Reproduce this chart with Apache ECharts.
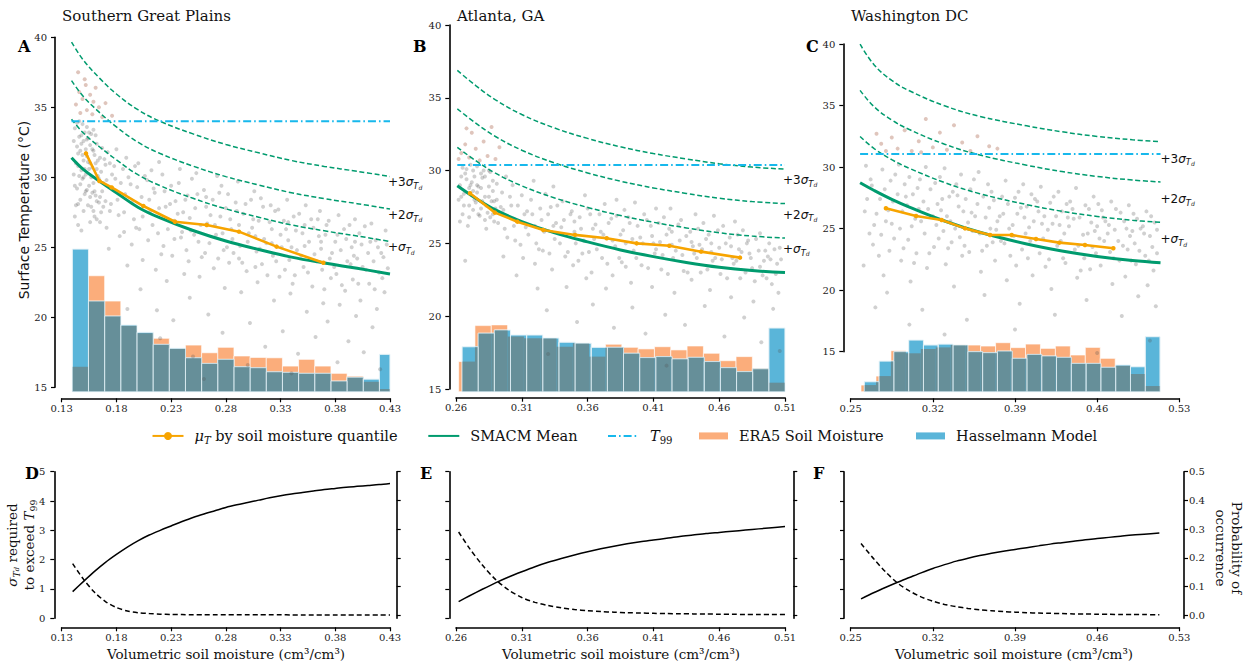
<!DOCTYPE html>
<html><head><meta charset="utf-8">
<script src="https://cdn.jsdelivr.net/npm/echarts@6/dist/echarts.min.js"></script>
<style>html,body{margin:0;padding:0;background:#fff}#chart{width:1252px;height:661px}</style>
</head><body><div id="chart"></div>
<script>
// ================= DATA =================
const panelTitles = ['Southern Great Plains', 'Atlanta, GA', 'Washington DC'];
const panelLetters = ['A', 'B', 'C', 'D', 'E', 'F'];
const xTicksA = [0.13, 0.18, 0.23, 0.28, 0.33, 0.38, 0.43];
const xTicksB = [0.26, 0.31, 0.36, 0.41, 0.46, 0.51];
const xTicksC = [0.25, 0.32, 0.39, 0.46, 0.53];
const yTicksTemp = [15, 20, 25, 30, 35, 40];
const yTicksProb = [0, 0.1, 0.2, 0.3, 0.4, 0.5];
const xRangeA = [0.13, 0.43], xRangeB = [0.26, 0.51], xRangeC = [0.25, 0.53];
const yRangeA = [14.69, 40], yRangeB = [14.81, 40], yRangeC = [11.75, 40];
const sigmaRange = [0, 5], probRange = [-0.0104, 0.5];

// --- Panel A (Southern Great Plains)
const smA = [0.139, 0.15, 0.165, 0.18, 0.2, 0.22, 0.25, 0.28, 0.31, 0.34, 0.37, 0.40, 0.43];
const meanA = [31.4, 30.55, 29.7, 28.9, 27.85, 27.1, 26.2, 25.45, 24.85, 24.3, 23.88, 23.5, 23.1];
const plus1A = [34.15, 33.15, 32.15, 31.25, 30.17, 29.4, 28.5, 27.75, 27.15, 26.6, 26.18, 25.81, 25.42];
const plus2A = [36.9, 35.75, 34.6, 33.6, 32.49, 31.7, 30.8, 30.05, 29.45, 28.9, 28.48, 28.12, 27.74];
const plus3A = [39.65, 38.35, 37.05, 35.95, 34.81, 34.0, 33.1, 32.35, 31.75, 31.2, 30.78, 30.43, 30.06];
const t99A = 34.0, t99xA = [0.139, 0.43];
const quantXA = [0.1522, 0.1644, 0.1757, 0.2046, 0.2335, 0.2625, 0.292, 0.3264, 0.3691];
const quantYA = [31.71, 29.74, 29.28, 27.95, 26.83, 26.59, 26.12, 25.05, 23.9];
const eraRangeA = [0.1397, 0.4351], hasRangeA = [0.1397, 0.4351];
const eraA = [16.47, 22.97, 21.16, 19.4, 18.86, 18.5, 17.75, 18.02, 17.47, 17.86, 17.24, 17.14, 17.11, 16.52, 17.0, 16.52, 16.0, 15.8, 15.4, 14.88];
const hasA = [24.88, 21.16, 20.09, 19.45, 18.93, 18.07, 17.79, 17.11, 16.71, 17.0, 16.47, 16.4, 16.11, 16.07, 16.0, 16.0, 15.45, 15.72, 15.59, 17.36];
const scatterA = [
[0.142,33.5],[0.144,32.2],[0.145,30.8],[0.146,34.0],[0.147,29.5],[0.148,33.0],[0.149,31.6],[0.150,32.6],[0.151,28.8],[0.152,30.2],
[0.153,33.6],[0.154,31.1],[0.155,29.4],[0.156,32.3],[0.157,27.9],[0.158,30.7],[0.159,31.9],[0.160,29.0],[0.161,33.0],[0.162,28.3],
[0.163,30.1],[0.165,31.4],[0.166,27.5],[0.168,29.6],[0.170,30.9],[0.143,31.0],[0.146,32.9],[0.149,33.8],[0.152,32.0],[0.155,33.2],
[0.158,28.9],[0.161,31.0],[0.164,29.9],[0.167,32.1],[0.144,29.2],[0.150,27.6],[0.156,26.8],[0.147,31.9],[0.151,30.6],[0.153,32.7],
[0.157,30.0],[0.159,33.4],[0.162,30.6],[0.145,28.1],[0.148,26.2],[0.141,30.2],[0.143,28.0],[0.154,28.0],[0.160,27.2],[0.165,28.6],
[0.141,32.6],[0.142,29.4],[0.144,33.9],[0.145,31.7],[0.146,30.1],[0.148,32.4],[0.149,29.9],[0.150,31.2],[0.151,33.2],[0.152,29.0],
[0.153,31.5],[0.154,32.8],[0.155,30.6],[0.156,31.0],[0.157,33.1],[0.158,32.0],[0.159,29.6],[0.160,31.6],[0.161,28.7],[0.162,32.4],
[0.163,31.2],[0.164,28.2],[0.166,30.4],[0.167,29.0],[0.169,31.3],[0.170,28.3],[0.147,28.4],[0.150,30.0],[0.153,29.1],[0.156,28.6],
[0.159,27.6],[0.162,27.0],[0.165,26.8],[0.168,27.9],[0.171,29.8],[0.174,31.0],[0.177,29.1],[0.142,27.2],[0.145,26.6],[0.148,30.5],
[0.172,31.8],[0.175,28.1],[0.171,26.4],[0.176,30.2],[0.173,24.9],[0.179,29.9],[0.182,27.3],[0.180,32.0],[0.183,25.8],
[0.186,30.6],[0.188,28.8],[0.187,26.1],[0.190,23.7],[0.189,31.4],[0.193,29.5],[0.196,27.0],[0.194,25.2],[0.197,30.8],
[0.200,31.0],[0.203,28.6],[0.201,26.3],[0.204,24.1],[0.202,22.0],[0.208,29.8],[0.211,27.6],[0.209,25.5],[0.212,30.5],
[0.215,28.9],[0.218,26.0],[0.216,23.4],[0.219,31.1],[0.217,20.5],[0.222,30.2],[0.225,27.9],[0.223,25.1],[0.226,22.6],
[0.230,29.4],[0.233,26.9],[0.231,24.4],[0.234,28.3],[0.232,19.8],[0.238,30.6],[0.241,27.5],[0.239,25.7],[0.242,23.1],
[0.245,28.7],[0.248,26.2],[0.246,24.0],[0.249,29.9],[0.247,21.4],[0.252,27.8],[0.255,25.4],[0.253,30.3],[0.256,22.9],
[0.260,29.1],[0.263,26.7],[0.261,24.6],[0.264,20.2],[0.262,27.9],[0.268,28.4],[0.271,25.9],[0.269,23.5],[0.272,30.1],
[0.275,27.2],[0.278,24.8],[0.276,29.4],[0.279,22.1],[0.277,18.9],[0.282,28.8],[0.285,26.3],[0.283,23.9],[0.286,25.6],
[0.290,27.6],[0.293,25.1],[0.291,29.7],[0.294,21.8],[0.292,24.2],[0.298,28.1],[0.301,26.0],[0.299,23.3],[0.302,19.6],
[0.305,27.0],[0.308,24.7],[0.306,29.0],[0.309,22.5],[0.307,25.8],[0.312,28.5],[0.315,25.6],[0.313,23.8],[0.316,17.9],
[0.320,26.8],[0.323,24.4],[0.321,28.0],[0.324,21.2],[0.322,25.3],[0.328,27.7],[0.331,25.0],[0.329,22.9],[0.332,19.0],
[0.335,26.3],[0.338,24.1],[0.336,28.4],[0.339,21.7],[0.337,25.5],[0.342,27.2],[0.345,24.8],[0.343,23.0],[0.346,17.4],
[0.350,26.0],[0.353,28.0],[0.351,23.6],[0.354,20.4],[0.352,25.1],[0.358,27.0],[0.361,24.5],[0.359,22.2],[0.362,18.6],
[0.365,25.8],[0.368,23.4],[0.366,27.6],[0.369,21.0],[0.367,24.9],[0.372,26.6],[0.375,24.2],[0.373,19.7],[0.376,22.8],
[0.380,25.4],[0.383,27.3],[0.381,23.1],[0.384,20.9],[0.382,16.8],[0.388,26.3],[0.391,24.0],[0.389,21.9],[0.392,18.3],
[0.395,25.0],[0.398,27.0],[0.396,22.7],[0.399,20.1],[0.397,24.4],[0.402,26.0],[0.405,23.6],[0.403,21.2],[0.406,17.5],
[0.410,24.6],[0.413,26.7],[0.411,22.4],[0.414,19.3],[0.417,25.5],[0.420,23.2],[0.418,20.6],[0.421,16.3],
[0.424,24.3],[0.426,26.2],[0.425,21.8],[0.220,18.5],[0.300,16.6],[0.260,15.6],[0.340,16.0],[0.190,20.6],[0.250,17.2],
[0.174,27.6],[0.178,30.8],[0.181,28.4],[0.184,29.6],[0.187,27.5],[0.191,30.0],[0.194,28.2],[0.198,26.4],[0.199,29.3],
[0.204,27.2],[0.206,30.1],[0.210,28.4],[0.213,26.6],[0.214,29.2],[0.219,27.8],[0.221,24.5],[0.224,29.0],[0.227,26.3],
[0.229,28.1],[0.233,25.6],[0.236,27.4],[0.237,29.6],[0.240,26.1],[0.243,28.4],[0.244,24.8],[0.247,27.1],[0.251,25.9],
[0.254,28.8],[0.257,26.6],[0.258,24.3],[0.262,28.6],[0.265,25.3],[0.266,27.3],[0.270,26.6],[0.273,24.2],[0.274,28.9],
[0.277,26.0],[0.280,27.8],[0.281,25.0],[0.284,27.0],[0.287,24.6],[0.289,28.2],[0.292,26.6],[0.295,23.9],[0.296,27.4],
[0.300,25.4],[0.303,28.4],[0.304,26.4],[0.307,23.6],[0.310,26.9],[0.311,24.9],[0.314,27.9],[0.317,25.3],[0.318,23.0],
[0.322,26.3],[0.325,27.6],[0.326,24.0],[0.330,25.9],[0.333,26.9],[0.334,23.4],[0.337,26.8],[0.340,25.0],[0.341,22.4],
[0.344,26.2],[0.347,27.4],[0.349,24.4],[0.352,26.6],[0.355,23.2],[0.356,25.4],[0.360,26.4],[0.363,24.0],[0.364,27.0],
[0.367,25.4],[0.370,22.0],[0.371,25.9],[0.374,26.9],[0.377,24.6],[0.379,23.6],[0.382,25.9],[0.385,24.8],[0.386,22.3],
[0.390,25.6],[0.393,26.6],[0.394,23.8],[0.398,25.4],[0.400,24.2],[0.401,22.4],[0.404,25.2],[0.407,26.5],[0.408,23.4],
[0.412,25.4],[0.415,24.0],[0.416,22.0],[0.419,25.0],[0.422,24.6],[0.423,22.8],[0.427,25.2],[0.428,23.5]
];
const hotA = [[0.143,35.2],[0.146,36.1],[0.149,35.6],[0.151,37.0],[0.153,34.8],[0.156,35.9],[0.158,34.5],[0.161,36.4],
[0.164,35.0],[0.147,34.6],[0.145,37.5],[0.167,34.3],[0.170,35.3],[0.176,34.4],[0.152,36.6],[0.159,35.4]];

// --- Panel B (Atlanta, GA)
const smB = [0.261, 0.275, 0.29, 0.31, 0.335, 0.36, 0.385, 0.41, 0.435, 0.46, 0.485, 0.51];
const meanB = [28.96, 28.1, 27.3, 26.5, 25.72, 25.1, 24.55, 24.09, 23.69, 23.36, 23.13, 22.99];
const plus1B = [31.6, 30.68, 29.82, 28.95, 28.12, 27.47, 26.91, 26.45, 26.06, 25.73, 25.5, 25.36];
const plus2B = [34.24, 33.26, 32.34, 31.4, 30.52, 29.84, 29.27, 28.81, 28.43, 28.1, 27.87, 27.73];
const plus3B = [36.88, 35.84, 34.86, 33.85, 32.92, 32.21, 31.63, 31.17, 30.8, 30.47, 30.24, 30.1];
const t99B = 30.38, t99xB = [0.261, 0.51];
const quantXB = [0.2706, 0.2896, 0.3066, 0.3263, 0.3504, 0.3745, 0.3973, 0.4221, 0.4462, 0.4758];
const quantYB = [28.44, 27.11, 26.49, 25.92, 25.58, 25.35, 25.0, 24.84, 24.43, 24.02];
const eraRangeB = [0.262, 0.510], hasRangeB = [0.2646, 0.510];
const eraB = [16.88, 19.35, 19.4, 18.6, 18.48, 18.48, 17.9, 18.14, 17.22, 18.07, 17.86, 17.75, 17.9, 17.68, 17.95, 17.45, 16.94, 17.22, 16.42, 15.43];
const hasB = [17.9, 18.83, 19.05, 18.71, 18.71, 18.5, 18.21, 18.14, 17.86, 17.86, 17.45, 17.15, 17.22, 17.06, 17.17, 16.88, 16.46, 16.19, 16.38, 19.19];
const scatterB = [
[0.264,29.6],[0.266,28.4],[0.268,30.1],[0.270,27.6],[0.272,29.2],[0.274,28.0],[0.276,30.3],[0.278,26.9],[0.280,29.5],[0.282,28.2],
[0.284,27.1],[0.286,29.9],[0.288,28.6],[0.290,27.4],[0.265,27.0],[0.269,26.2],[0.273,30.0],[0.277,28.9],[0.281,30.0],[0.285,28.9],
[0.289,26.5],[0.263,26.5],[0.267,23.8],[0.271,29.0],[0.275,27.8],[0.279,29.8],[0.283,26.0],[0.287,27.9],[0.291,29.1],[0.262,28.0],
[0.263,29.0],[0.265,30.2],[0.266,27.6],[0.268,29.4],[0.270,28.8],[0.271,30.4],[0.273,27.3],[0.274,29.6],[0.276,28.5],[0.277,27.0],
[0.279,28.8],[0.280,27.9],[0.282,29.6],[0.283,27.6],[0.285,28.2],[0.286,26.8],[0.288,29.3],[0.289,27.9],[0.291,28.0],[0.292,26.4],
[0.294,27.5],[0.264,28.2],[0.267,29.8],[0.270,26.8],[0.273,28.6],[0.276,29.0],[0.279,27.4],[0.282,26.6],[0.285,30.0],[0.288,27.0],
[0.295,28.5],[0.297,26.0],[0.296,24.1],[0.298,29.6],[0.302,27.6],[0.305,25.2],[0.303,29.0],[0.306,22.8],[0.304,26.7],
[0.310,28.3],[0.313,26.1],[0.311,24.0],[0.314,27.2],[0.318,27.0],[0.321,25.0],[0.319,29.3],[0.322,21.9],[0.320,23.6],
[0.325,26.6],[0.328,28.4],[0.326,24.5],[0.329,20.4],[0.332,27.5],[0.335,25.3],[0.333,23.2],[0.336,26.4],[0.334,28.9],
[0.340,26.1],[0.343,24.1],[0.341,27.9],[0.344,22.0],[0.348,27.2],[0.351,25.0],[0.349,23.5],[0.352,19.6],[0.350,26.5],
[0.355,26.0],[0.358,28.3],[0.356,24.3],[0.359,22.6],[0.362,27.0],[0.365,25.3],[0.363,23.0],[0.366,26.3],[0.364,20.8],
[0.370,25.8],[0.373,27.7],[0.371,24.0],[0.374,21.9],[0.378,26.7],[0.381,24.8],[0.379,22.8],[0.382,28.0],[0.380,19.2],
[0.385,25.6],[0.388,27.3],[0.386,23.7],[0.389,25.0],[0.392,26.4],[0.395,24.5],[0.393,22.3],[0.396,27.8],[0.394,20.6],
[0.400,25.4],[0.403,27.0],[0.401,23.5],[0.404,18.8],[0.408,26.2],[0.411,24.3],[0.409,22.0],[0.412,27.4],[0.410,25.0],
[0.415,25.1],[0.418,26.8],[0.416,23.2],[0.419,20.1],[0.422,26.0],[0.425,24.0],[0.423,27.4],[0.426,21.6],[0.424,24.9],
[0.430,25.2],[0.433,23.1],[0.431,26.6],[0.434,19.4],[0.438,25.8],[0.441,24.3],[0.439,22.5],[0.442,27.0],[0.440,24.8],
[0.445,24.9],[0.448,26.4],[0.446,23.0],[0.449,20.7],[0.452,25.6],[0.455,23.8],[0.453,21.8],[0.456,26.9],[0.454,24.4],
[0.460,24.7],[0.463,26.2],[0.461,22.9],[0.464,18.6],[0.468,25.4],[0.471,23.6],[0.469,21.3],[0.472,26.5],[0.470,24.0],
[0.475,24.6],[0.478,25.9],[0.476,22.6],[0.479,19.9],[0.482,25.2],[0.485,23.3],[0.483,24.3],[0.486,21.0],
[0.490,24.5],[0.493,22.8],[0.491,25.7],[0.494,23.8],[0.492,18.2],[0.497,24.1],[0.500,22.2],[0.498,25.0],[0.501,20.5],
[0.504,23.6],[0.506,24.7],[0.505,21.6],[0.506,17.6],[0.330,17.4],[0.420,16.6],
[0.296,27.3],[0.299,25.4],[0.301,28.2],[0.304,26.2],[0.307,27.6],[0.309,24.9],[0.312,27.0],[0.315,25.6],[0.317,28.0],
[0.320,26.2],[0.323,24.6],[0.324,27.4],[0.327,25.8],[0.330,27.0],[0.331,24.3],[0.334,26.2],[0.337,27.6],[0.339,25.0],
[0.342,26.6],[0.345,24.4],[0.347,27.0],[0.350,25.8],[0.353,23.8],[0.354,26.8],[0.357,25.2],[0.360,27.4],[0.361,24.4],
[0.364,26.0],[0.367,24.6],[0.369,27.0],[0.372,25.6],[0.375,23.6],[0.376,26.4],[0.379,25.2],[0.382,26.9],[0.384,24.0],
[0.387,25.9],[0.389,23.4],[0.391,26.8],[0.394,25.3],[0.397,24.0],[0.398,26.2],[0.402,25.0],[0.405,26.6],[0.406,23.3],
[0.409,25.5],[0.412,24.6],[0.414,26.4],[0.417,24.2],[0.420,25.6],[0.421,22.9],[0.424,25.8],[0.427,24.5],[0.429,26.3],
[0.432,24.2],[0.435,25.5],[0.436,23.0],[0.439,25.1],[0.443,24.0],[0.444,26.0],[0.447,24.6],[0.450,25.3],[0.451,23.2],
[0.454,25.0],[0.457,24.0],[0.459,25.9],[0.462,23.9],[0.465,25.0],[0.466,22.6],[0.469,24.8],[0.473,23.8],[0.474,25.6],
[0.477,24.4],[0.480,23.0],[0.481,25.0],[0.484,24.0],[0.487,22.4],[0.488,25.3],[0.491,23.4],[0.495,24.5],[0.496,22.6],
[0.499,23.9],[0.502,24.6],[0.503,22.9],[0.507,23.9]
];
const hotB = [[0.264,31.2],[0.267,31.8],[0.270,30.9],[0.272,32.6],[0.275,31.5],[0.278,30.7],[0.281,32.0],[0.284,31.0],
[0.287,33.0],[0.290,30.8],[0.293,31.6],[0.268,32.9],[0.262,30.8]];

// --- Panel C (Washington DC)
const smC = [0.258, 0.27, 0.285, 0.30, 0.33, 0.36, 0.40, 0.43, 0.46, 0.49, 0.514];
const meanC = [28.73, 28.1, 27.38, 26.75, 25.62, 24.7, 23.75, 23.18, 22.74, 22.41, 22.23];
const plus1C = [32.48, 31.5, 30.6, 29.9, 28.74, 27.84, 26.95, 26.41, 25.99, 25.68, 25.51];
const plus2C = [36.23, 34.9, 33.82, 33.05, 31.86, 30.98, 30.15, 29.64, 29.24, 28.95, 28.79];
const plus3C = [39.98, 38.3, 37.04, 36.2, 34.98, 34.12, 33.35, 32.87, 32.49, 32.22, 32.07];
const t99C = 31.06, t99xC = [0.258, 0.514];
const quantXC = [0.28, 0.3057, 0.3275, 0.3474, 0.3687, 0.3872, 0.4079, 0.4278, 0.4496, 0.4738];
const quantYC = [26.65, 26.03, 25.7, 25.02, 24.48, 24.48, 24.16, 23.86, 23.67, 23.4];
const eraRangeC = [0.2588, 0.5136], hasRangeC = [0.2616, 0.5136];
const eraC = [12.29, 13.02, 15.08, 14.87, 15.22, 15.35, 15.55, 15.54, 15.46, 15.73, 15.33, 15.62, 15.27, 15.46, 14.73, 15.35, 14.46, 13.86, 13.19, 12.21];
const hasC = [12.56, 14.24, 15.0, 15.95, 15.55, 15.62, 15.54, 15.0, 14.92, 15.05, 14.46, 14.78, 14.65, 14.54, 14.05, 14.05, 13.73, 13.92, 13.78, 16.22];
const scatterC = [
[0.262,26.4],[0.263,30.1],[0.261,22.0],[0.268,28.5],[0.270,25.3],[0.269,23.7],[0.271,18.6],
[0.275,27.4],[0.277,29.8],[0.276,24.5],[0.278,21.2],[0.282,26.5],[0.284,28.9],[0.283,23.2],[0.285,25.4],[0.281,19.8],
[0.290,27.8],[0.292,25.0],[0.291,30.2],[0.293,22.4],[0.298,26.9],[0.300,29.2],[0.299,24.1],[0.301,20.7],[0.297,27.6],
[0.305,25.8],[0.307,28.3],[0.306,23.0],[0.308,26.6],[0.312,27.2],[0.314,30.0],[0.313,24.6],[0.315,21.8],[0.311,18.4],
[0.320,26.0],[0.322,28.7],[0.321,23.5],[0.323,25.3],[0.328,27.4],[0.330,29.9],[0.329,24.8],[0.331,22.1],[0.327,26.5],
[0.335,25.6],[0.337,28.0],[0.336,23.9],[0.338,20.3],[0.342,26.8],[0.344,29.4],[0.343,24.3],[0.345,22.8],[0.341,27.7],
[0.350,25.5],[0.352,28.2],[0.351,23.1],[0.353,26.3],[0.349,17.6],[0.358,27.0],[0.360,24.6],[0.359,29.6],[0.361,21.5],
[0.365,25.9],[0.367,28.6],[0.366,23.6],[0.368,26.7],[0.364,19.6],[0.372,27.3],[0.374,24.9],[0.373,22.4],[0.375,25.6],
[0.380,26.2],[0.382,28.9],[0.381,23.8],[0.383,20.8],[0.379,27.6],[0.388,25.3],[0.390,27.5],[0.389,24.4],[0.391,22.0],
[0.395,26.7],[0.397,28.6],[0.396,23.3],[0.398,25.9],[0.394,18.9],[0.402,25.1],[0.404,27.8],[0.403,24.0],[0.405,21.2],
[0.410,26.4],[0.412,28.4],[0.411,23.0],[0.413,25.4],[0.409,27.2],[0.418,24.9],[0.420,27.1],[0.419,22.5],[0.421,20.1],
[0.425,26.0],[0.427,28.0],[0.426,23.6],[0.428,25.3],[0.424,18.0],[0.432,24.6],[0.434,27.0],[0.433,22.2],[0.435,25.9],
[0.440,25.8],[0.442,28.3],[0.441,23.3],[0.443,21.0],[0.439,26.6],[0.448,24.5],[0.450,26.9],[0.449,22.6],[0.451,19.2],
[0.455,25.5],[0.457,27.6],[0.456,23.5],[0.458,24.8],[0.454,21.7],[0.462,24.2],[0.464,26.5],[0.463,22.0],[0.465,25.9],
[0.470,25.3],[0.472,27.2],[0.471,23.1],[0.473,20.5],[0.469,24.6],[0.478,24.0],[0.480,26.3],[0.479,22.4],[0.481,17.9],
[0.485,25.0],[0.487,26.9],[0.486,23.3],[0.488,24.4],[0.484,21.1],[0.492,23.8],[0.494,25.8],[0.493,22.1],[0.495,19.5],
[0.500,24.6],[0.502,26.4],[0.501,22.8],[0.503,20.4],[0.499,25.2],[0.507,23.5],[0.509,25.5],[0.508,21.6],[0.510,18.7],
[0.330,16.4],[0.460,14.9],[0.505,15.9],[0.390,16.8],[0.300,17.2],
[0.264,27.4],[0.266,24.6],[0.267,29.0],[0.272,26.2],[0.274,22.8],[0.279,28.2],[0.280,25.6],[0.286,27.2],[0.287,24.2],[0.288,29.4],
[0.294,26.4],[0.295,23.4],[0.296,28.6],[0.302,25.2],[0.303,27.8],[0.304,22.2],[0.309,29.0],[0.310,25.6],[0.316,26.6],[0.317,23.0],
[0.318,28.2],[0.324,27.0],[0.325,24.2],[0.326,29.2],[0.332,26.0],[0.333,23.4],[0.334,27.6],[0.339,25.0],[0.340,28.6],[0.346,26.4],
[0.347,23.6],[0.348,27.4],[0.354,24.8],[0.355,29.0],[0.356,26.0],[0.362,23.2],[0.363,27.6],[0.369,25.0],[0.370,28.0],[0.371,23.9],
[0.377,26.0],[0.378,24.0],[0.384,27.0],[0.385,25.0],[0.386,22.8],[0.392,26.2],[0.393,28.0],[0.399,24.6],[0.400,26.8],[0.401,22.6],
[0.406,25.6],[0.407,27.4],[0.414,24.2],[0.415,26.0],[0.416,21.9],[0.422,25.4],[0.423,27.6],[0.429,24.0],[0.430,26.4],[0.431,22.6],
[0.436,25.2],[0.437,27.2],[0.444,23.6],[0.445,25.9],[0.446,21.6],[0.452,24.6],[0.453,26.6],[0.459,23.0],[0.460,25.2],[0.461,27.0],
[0.466,24.0],[0.467,25.6],[0.474,22.6],[0.475,24.9],[0.476,26.6],[0.482,23.6],[0.483,25.6],[0.489,22.4],[0.490,24.8],[0.491,26.2],
[0.496,23.2],[0.497,25.0],[0.504,22.4],[0.505,24.4],[0.506,26.0],[0.511,23.0],[0.511,24.9]
];
const hotC = [[0.272,32.7],[0.276,31.9],[0.285,32.4],[0.290,31.5],[0.296,33.0],[0.302,31.3],[0.308,32.1],[0.314,33.9],[0.320,31.6],
[0.326,32.8],[0.332,31.4],[0.338,33.4],[0.345,32.0],[0.352,31.3],[0.358,32.5],[0.368,31.7],[0.375,31.5],[0.280,31.3],[0.310,31.2]];

// --- Bottom panels: sigma required to exceed T99 (left axis) and probability of occurrence (right axis)
const sigXD = [0.14,0.15,0.16,0.17,0.18,0.19,0.20,0.21,0.22,0.23,0.24,0.25,0.26,0.27,0.28,0.29,0.30,0.31,0.32,0.33,0.34,0.35,0.36,0.37,0.38,0.39,0.40,0.41,0.42,0.43];
const sigD  = [0.91,1.26,1.6,1.91,2.18,2.43,2.65,2.84,3.0,3.15,3.3,3.44,3.56,3.67,3.78,3.87,3.95,4.03,4.11,4.18,4.24,4.29,4.34,4.39,4.43,4.47,4.5,4.53,4.56,4.6];
const probXD = sigXD;
const probD  = [0.18,0.125,0.08,0.048,0.027,0.015,0.009,0.006,0.004,0.003,0.0025,0.002,0.002,0.002,0.002,0.002,0.002,0.002,0.0018,0.0016,0.0015,0.0015,0.0015,0.0014,0.0014,0.0013,0.0013,0.0012,0.0012,0.0012];
const sigXE = [0.262,0.27,0.28,0.29,0.30,0.31,0.32,0.33,0.34,0.35,0.36,0.37,0.38,0.39,0.40,0.41,0.42,0.43,0.44,0.45,0.46,0.47,0.48,0.49,0.50,0.51];
const sigE  = [0.57,0.76,0.99,1.21,1.41,1.59,1.76,1.91,2.04,2.16,2.27,2.37,2.46,2.54,2.61,2.67,2.73,2.79,2.84,2.89,2.93,2.97,3.01,3.05,3.09,3.13];
const probXE = sigXE;
const probE  = [0.29,0.235,0.175,0.125,0.088,0.062,0.045,0.034,0.026,0.02,0.016,0.013,0.011,0.009,0.008,0.007,0.006,0.0055,0.005,0.0045,0.004,0.0035,0.003,0.003,0.003,0.003];
const sigXF = [0.2588,0.27,0.28,0.29,0.30,0.31,0.32,0.33,0.34,0.35,0.36,0.37,0.38,0.39,0.40,0.41,0.42,0.43,0.44,0.45,0.46,0.47,0.48,0.49,0.50,0.513];
const sigF  = [0.66,0.88,1.06,1.23,1.39,1.55,1.7,1.83,1.95,2.05,2.14,2.22,2.29,2.35,2.41,2.47,2.53,2.58,2.63,2.68,2.72,2.76,2.8,2.84,2.87,2.91];
const probXF = sigXF;
const probF  = [0.25,0.195,0.15,0.112,0.085,0.064,0.049,0.038,0.03,0.024,0.019,0.016,0.013,0.011,0.009,0.008,0.007,0.006,0.005,0.0045,0.004,0.0035,0.003,0.003,0.0025,0.002];

// ================= STYLE / LAYOUT =================
const SERIF = 'DejaVu Serif', SANS = 'DejaVu Sans';
const GREEN = '#009b6e', ORANGE = '#f7a400', SKY = '#17b8ec', ERA = '#fbad7b', HAS = '#5ab5d9', MIX = '#668f99';

function richSet(family, size) {
  return {
    n: {fontFamily: family, fontSize: size, lineHeight: size * 1.3},
    i: {fontFamily: family, fontStyle: 'italic', fontSize: size, lineHeight: size * 1.3},
    s: {fontFamily: family, fontStyle: 'italic', fontSize: size * 0.7, lineHeight: size * 0.8, verticalAlign: 'bottom'},
    s0: {fontFamily: family, fontSize: size * 0.7, lineHeight: size * 0.8, verticalAlign: 'bottom'},
    d: {fontFamily: family, fontStyle: 'italic', fontSize: size * 0.5, lineHeight: size * 0.5, verticalAlign: 'bottom'}
  };
}

const topPanels = [
  {data: {left: 61.7, top: 37.3, width: 328.3, height: 354.4}, spine: {left: 61.7, top: 37.3, width: 328.3, height: 350}, yOff: 6.7, xOff: 11, lab: [-2, 6],
   xr: xRangeA, yr: yRangeA, xt: xTicksA, sm: smA, mean: meanA, p: [plus1A, plus2A, plus3A], t99: t99A, t99x: t99xA, qx: quantXA, qy: quantYA,
   era: eraA, eraR: eraRangeA, has: hasA, hasR: hasRangeA, sc: scatterA, hot: hotA},
  {data: {left: 456, top: 25, width: 329, height: 366.7}, spine: {left: 456, top: 25, width: 329, height: 364}, yOff: 6.7, xOff: 8.7, lab: [-2, 11],
   xr: xRangeB, yr: yRangeB, xt: xTicksB, sm: smB, mean: meanB, p: [plus1B, plus2B, plus3B], t99: t99B, t99x: t99xB, qx: quantXB, qy: quantYB,
   era: eraB, eraR: eraRangeB, has: hasB, hasR: hasRangeB, sc: scatterB, hot: hotB},
  {data: {left: 850.7, top: 44, width: 328.6, height: 347.7}, spine: {left: 850.7, top: 44, width: 328.6, height: 307.7}, yOff: 7.4, xOff: 46.6, lab: [0, 17],
   xr: xRangeC, yr: yRangeC, xt: xTicksC, sm: smC, mean: meanC, p: [plus1C, plus2C, plus3C], t99: t99C, t99x: t99xC, qx: quantXC, qy: quantYC,
   era: eraC, eraR: eraRangeC, has: hasC, hasR: hasRangeC, sc: scatterC, hot: hotC}
];
const bottomPanels = [
  {grid: {left: 61.7, top: 471.7, width: 328.3, height: 146.6}, lOff: 7.4, rOff: 6.7, showL: true, showR: false, xr: xRangeA, xt: xTicksA, sx: sigXD, sy: sigD, px: probXD, py: probD},
  {grid: {left: 456, top: 471.7, width: 329, height: 146.6}, lOff: 6.7, rOff: 8.3, showL: false, showR: false, xr: xRangeB, xt: xTicksB, sx: sigXE, sy: sigE, px: probXE, py: probE},
  {grid: {left: 850.7, top: 471.7, width: 328.6, height: 146.6}, lOff: 6.7, rOff: 4.7, showL: false, showR: true, xr: xRangeC, xt: xTicksC, sx: sigXF, sy: sigF, px: probXF, py: probF}
];

// ================= HELPERS =================
const pairs = (xs, ys) => xs.map((x, i) => [x, ys[i]]);
function binData(range, heights, base) {
  const n = heights.length, w = (range[1] - range[0]) / n;
  return heights.map((h, i) => [range[0] + i * w, range[0] + (i + 1) * w, h, base]);
}
function overlapData(a, b, base) {
  const out = [];
  a.forEach(p => b.forEach(q => {
    const lo = Math.max(p[0], q[0]), hi = Math.min(p[1], q[1]);
    if (hi > lo) out.push([lo, hi, Math.min(p[2], q[2]), base]);
  }));
  return out;
}
function rectRenderer(fill, stroke, lw) {
  return function (params, api) {
    const p0 = api.coord([api.value(0), api.value(2)]);
    const p1 = api.coord([api.value(1), api.value(3)]);
    const cs = params.coordSys;
    const shape = echarts.graphic.clipRectByRect(
      {x: p0[0], y: p0[1], width: p1[0] - p0[0], height: p1[1] - p0[1]},
      {x: cs.x, y: cs.y, width: cs.width, height: cs.height});
    if (!shape) return null;
    return {type: 'rect', shape: shape, style: {fill: fill, stroke: stroke || null, lineWidth: lw || 0}};
  };
}
const axisLineStyle = {show: true, onZero: false, lineStyle: {color: '#000', width: 1.6}};
const tickStyle = {lineStyle: {color: '#000', width: 1.2}, length: 4};
const labelStyle = {fontFamily: SERIF, fontSize: 10, color: '#222'};

// ================= BUILD OPTION =================
const grids = [], xAxes = [], yAxes = [], series = [];

topPanels.forEach((P, k) => {
  const gd = grids.length;
  grids.push(Object.assign({outerBoundsMode: 'none', containLabel: false}, P.data));
  xAxes.push({type: 'value', gridIndex: gd, min: P.xr[0], max: P.xr[1], show: false});
  yAxes.push({type: 'value', gridIndex: gd, min: P.yr[0], max: P.yr[1], show: false});
  const gs = grids.length;
  grids.push(Object.assign({outerBoundsMode: 'none', containLabel: false}, P.spine));
  xAxes.push({type: 'value', gridIndex: gs, min: P.xr[0], max: P.xr[1], position: 'bottom', offset: P.xOff,
    axisLine: axisLineStyle, axisTick: Object.assign({show: true, customValues: P.xt}, tickStyle),
    axisLabel: Object.assign({show: true, margin: 5, customValues: P.xt, formatter: v => v.toFixed(2)}, labelStyle),
    splitLine: {show: false}});
  yAxes.push({type: 'value', gridIndex: gs, min: 15, max: 40, interval: 5, position: 'left', offset: P.yOff,
    axisLine: axisLineStyle, axisTick: Object.assign({show: true}, tickStyle),
    axisLabel: Object.assign({show: true, margin: 8}, labelStyle), splitLine: {show: false}});

  const base = P.yr[0];
  const eraBins = binData(P.eraR, P.era, base), hasBins = binData(P.hasR, P.has, base);
  const common = {type: 'custom', xAxisIndex: gd, yAxisIndex: gd, silent: true, z: 1, encode: {x: [0, 1], y: [2, 3]}};
  series.push(Object.assign({name: 'ERA5 Soil Moisture', data: eraBins, renderItem: rectRenderer(ERA, 'rgba(255,255,255,0.8)', 0.8), itemStyle: {color: ERA}}, common));
  series.push(Object.assign({name: 'Hasselmann Model', data: hasBins, renderItem: rectRenderer(HAS, 'rgba(255,255,255,0.8)', 0.8), itemStyle: {color: HAS}}, common));
  series.push(Object.assign({name: 'overlap' + k, data: overlapData(eraBins, hasBins, base), renderItem: rectRenderer(MIX, null, 0), itemStyle: {color: MIX}}, common));
  series.push(Object.assign({name: 'outline' + k, data: hasBins, renderItem: rectRenderer('none', 'rgba(225,240,246,0.75)', 0.9), itemStyle: {color: HAS}}, common));

  series.push({type: 'scatter', name: 'pts' + k, xAxisIndex: gd, yAxisIndex: gd, data: P.sc, symbolSize: 4, silent: true, z: 2,
    itemStyle: {color: 'rgba(80,80,80,0.34)'}});
  series.push({type: 'scatter', name: 'hot' + k, xAxisIndex: gd, yAxisIndex: gd, data: P.hot, symbolSize: 4, silent: true, z: 2,
    itemStyle: {color: 'rgba(165,95,70,0.45)'}});

  ['+{i|σ}{s|T}{d|d}', '+2{i|σ}{s|T}{d|d}', '+3{i|σ}{s|T}{d|d}'].forEach((lab, j) => {
    series.push({type: 'line', name: 'sig' + (j + 1) + '_' + k, xAxisIndex: gd, yAxisIndex: gd, data: pairs(P.sm, P.p[j]),
      smooth: 0.4, symbol: 'none', silent: true, z: 3,
      lineStyle: {color: GREEN, width: 1.5, type: [5, 2.6]},
      endLabel: {show: true, formatter: () => lab, distance: 0, offset: P.lab, color: '#111',
        fontFamily: SANS, fontSize: 12, lineHeight: 15.6, rich: richSet(SANS, 12)}});
  });
  series.push({type: 'line', name: 'T99', xAxisIndex: gd, yAxisIndex: gd, data: [[P.t99x[0], P.t99], [P.t99x[1], P.t99]],
    symbol: 'none', silent: true, z: 3, itemStyle: {color: SKY}, lineStyle: {color: SKY, width: 1.9, type: [8, 3, 1.6, 3]}});
  series.push({type: 'line', name: 'SMACM Mean', xAxisIndex: gd, yAxisIndex: gd, data: pairs(P.sm, P.mean),
    smooth: 0.4, symbol: 'none', silent: true, z: 4, itemStyle: {color: GREEN}, lineStyle: {color: GREEN, width: 3}});
  series.push({type: 'line', name: 'muT', xAxisIndex: gd, yAxisIndex: gd, data: pairs(P.qx, P.qy),
    symbol: 'circle', symbolSize: 4.5, silent: true, z: 5, itemStyle: {color: ORANGE}, lineStyle: {color: ORANGE, width: 2.6}});
});

const rightAxes = [];
bottomPanels.forEach((P, k) => {
  const g = grids.length;
  grids.push(Object.assign({outerBoundsMode: 'none', containLabel: false}, P.grid));
  xAxes.push({type: 'value', gridIndex: g, min: P.xr[0], max: P.xr[1], position: 'bottom', offset: 9,
    axisLine: axisLineStyle, axisTick: Object.assign({show: true, customValues: P.xt}, tickStyle),
    axisLabel: Object.assign({show: true, margin: 5, customValues: P.xt, formatter: v => v.toFixed(2)}, labelStyle),
    splitLine: {show: false}});
  yAxes.push({type: 'value', gridIndex: g, min: sigmaRange[0], max: sigmaRange[1], interval: 1, position: 'left', offset: P.lOff,
    axisLine: axisLineStyle, axisTick: Object.assign({show: true}, tickStyle),
    axisLabel: Object.assign({show: P.showL, margin: 9}, labelStyle), splitLine: {show: false}});
  rightAxes.push({type: 'value', gridIndex: g, min: probRange[0], max: probRange[1], position: 'right', offset: P.rOff,
    axisLine: axisLineStyle, axisTick: Object.assign({show: true, customValues: yTicksProb}, tickStyle),
    axisLabel: Object.assign({show: P.showR, margin: 5, customValues: yTicksProb, formatter: v => v.toFixed(1)}, labelStyle),
    splitLine: {show: false}});
});
rightAxes.forEach(a => yAxes.push(a));
bottomPanels.forEach((P, k) => {
  const g = 6 + k;
  series.push({type: 'line', name: 'req' + k, xAxisIndex: g, yAxisIndex: g, data: pairs(P.sx, P.sy), smooth: 0.3,
    symbol: 'none', silent: true, lineStyle: {color: '#000', width: 1.5}});
  series.push({type: 'line', name: 'prob' + k, xAxisIndex: g, yAxisIndex: 9 + k, data: pairs(P.px, P.py), smooth: 0.3,
    symbol: 'none', silent: true, lineStyle: {color: '#000', width: 1.5, type: [5, 3]}});
});

// legends
const legRich = richSet(SERIF, 14.5);
const legText = {fontFamily: SERIF, fontSize: 14.5, color: '#111', lineHeight: 18.85, padding: [0, 0, 0, 6], rich: legRich};
const legBase = {top: 426.5, itemWidth: 31, itemHeight: 10, padding: 0, selectedMode: false, orient: 'horizontal', textStyle: legText};
const legends = [
  Object.assign({}, legBase, {left: 151.5, data: ['muT'], formatter: () => '{i|μ}{s|T} by soil moisture quantile'}),
  Object.assign({}, legBase, {left: 427.3, data: [{name: 'SMACM Mean', itemStyle: {opacity: 0}}]}),
  Object.assign({}, legBase, {left: 607, data: [{name: 'T99', itemStyle: {opacity: 0}}], formatter: () => '{i|T}{s0|99}'}),
  Object.assign({}, legBase, {left: 699, itemWidth: 29, itemHeight: 7, data: [{name: 'ERA5 Soil Moisture', icon: 'rect'}]}),
  Object.assign({}, legBase, {left: 916, itemWidth: 29, itemHeight: 7, data: [{name: 'Hasselmann Model', icon: 'rect'}]})
];

// free text
const graphics = [];
const titleX = [62, 457, 851];
panelTitles.forEach((t, i) => graphics.push({type: 'text', x: titleX[i], y: 16,
  style: {text: t, fontFamily: SERIF, fontSize: 15, fill: '#111', align: 'left', verticalAlign: 'middle'}}));
const letterPos = [[18, 46.5], [413, 46.5], [806, 46.5], [25, 473.5], [420, 473.5], [813, 473.5]];
panelLetters.forEach((t, i) => graphics.push({type: 'text', x: letterPos[i][0], y: letterPos[i][1],
  style: {text: t, fontFamily: SERIF, fontSize: 16, fontWeight: 'bold', fill: '#000', align: 'left', verticalAlign: 'middle'}}));
graphics.push({type: 'text', x: 24, y: 210, rotation: Math.PI / 2,
  style: {text: 'Surface Temperature (°C)', fontFamily: SANS, fontSize: 14, fill: '#111', align: 'center', verticalAlign: 'middle'}});
const xLabCenters = [226, 621, 1014];
xLabCenters.forEach(cx => graphics.push({type: 'text', x: cx, y: 654,
  style: {text: 'Volumetric soil moisture (cm³/cm³)', fontFamily: SERIF, fontSize: 13.5, fill: '#111', align: 'center', verticalAlign: 'middle'}}));
graphics.push({type: 'text', x: 20.5, y: 545, rotation: Math.PI / 2,
  style: {text: '{i|σ}{s|T}{d|d} required\nto exceed {i|T}{s0|99}', fontFamily: SERIF, fontSize: 13.5, lineHeight: 17.5,
    rich: richSet(SERIF, 13.5), fill: '#111', align: 'center', verticalAlign: 'middle'}});
graphics.push({type: 'text', x: 1229, y: 548, rotation: -Math.PI / 2,
  style: {text: 'Probability of\noccurrence', fontFamily: SERIF, fontSize: 13.5, lineHeight: 16,
    fill: '#111', align: 'center', verticalAlign: 'middle'}});

const option = {
  animation: false,
  backgroundColor: '#fff',
  grid: grids, xAxis: xAxes, yAxis: yAxes, series: series, legend: legends,
  graphic: {elements: graphics}
};
const chart = echarts.init(document.getElementById('chart'), null, {renderer: 'svg'});
chart.setOption(option);
</script>
</body></html>
